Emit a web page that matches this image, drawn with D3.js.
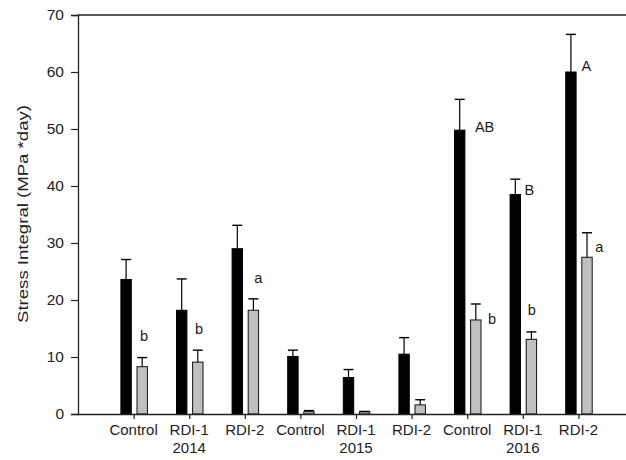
<!DOCTYPE html>
<html>
<head>
<meta charset="utf-8">
<script src="https://cdn.jsdelivr.net/npm/d3@7"></script>
<style>
  html, body { margin: 0; padding: 0; background: #fff; }
  svg { display: block; font-family: "Liberation Sans", Arial, sans-serif; }
</style>
</head>
<body>
<svg id="chart" width="626" height="460"></svg>
<script>
// Treatment names and year under the middle treatment of each season
const treatments = ["Control", "RDI-1", "RDI-2", "Control", "RDI-1", "RDI-2", "Control", "RDI-1", "RDI-2"];
const years = ["", "2014", "", "", "2015", "", "", "2016", ""];

// Black series: mean and error (upper SE)
const blackMean = [23.6, 18.2, 29.0, 10.1, 6.4, 10.5, 49.8, 38.5, 60.0];
const blackErr  = [3.5, 5.5, 4.1, 1.1, 1.4, 2.9, 5.4, 2.7, 6.6];
const blackLetters = ["", "", "", "", "", "", "AB", "B", "A"];

// Grey series: mean and error (upper SE)
const greyMean = [8.3, 9.1, 18.2, 0.4, 0.4, 1.6, 16.5, 13.1, 27.5];
const greyErr  = [1.6, 2.1, 2.0, 0.2, 0.05, 0.9, 2.8, 1.3, 4.3];
const greyLetters = ["b", "b", "a", "", "", "", "b", "b", "a"];

const yTicks = [0, 10, 20, 30, 40, 50, 60, 70];

const svg = d3.select("#chart");
const plotLeft = 78, plotRight = 634, plotTop = 15, plotBottom = 414;

const x = d3.scaleLinear().domain([0, 10]).range([plotLeft, plotRight]);
const y = d3.scaleLinear().domain([0, 70]).range([plotBottom, plotTop]);

const barW = 10.4;
const blackOff = -12.7, greyOff = 3.4;
const capW = 10;

const g = svg.append("g");

// Bars with upper error bars and significance letters
function drawSeries(means, errs, off, fill, stroke, letters, letterPos) {
  means.forEach((v, i) => {
    const bx = x(i + 1) + off;
    g.append("rect")
      .attr("x", bx)
      .attr("y", y(v))
      .attr("width", barW)
      .attr("height", y(0) - y(v))
      .attr("fill", fill)
      .attr("stroke", stroke)
      .attr("stroke-width", 1);
    const mid = bx + barW / 2;
    const errTop = y(v + errs[i]);
    g.append("line")
      .attr("x1", mid).attr("x2", mid)
      .attr("y1", y(v)).attr("y2", errTop)
      .attr("stroke", "#000").attr("stroke-width", 1.2);
    g.append("line")
      .attr("x1", mid - capW / 2).attr("x2", mid + capW / 2)
      .attr("y1", errTop).attr("y2", errTop)
      .attr("stroke", "#000").attr("stroke-width", 1.4);
    if (letters[i]) {
      const p = letterPos(i, v, errs[i], bx);
      g.append("text")
        .attr("x", p[0]).attr("y", p[1])
        .attr("font-size", 14.5)
        .attr("fill", "#1a1a1a")
        .text(letters[i]);
    }
  });
}

drawSeries(blackMean, blackErr, blackOff, "#000", "#000", blackLetters,
  (i, v, e, bx) => {
    if (i === 6) return [bx + barW + 10, y(v) + 2];
    if (i === 8) return [bx + barW + 5.5, y(v) - 1];
    return [bx + barW + 4, y(v)];
  });

drawSeries(greyMean, greyErr, greyOff, "#c0c0c0", "#111", greyLetters,
  (i, v, e, bx) => {
    if (i === 0) return [bx + 3, y(v + e) - 17];
    if (i === 1) return [bx + 2.5, y(v + e) - 16];
    if (i === 2) return [bx + 6, y(v + e) - 16];
    if (i === 6) return [bx + barW + 7, y(v) + 4];
    if (i === 7) return [bx + 1.5, y(v + e) - 17];
    return [bx + barW + 3, y(v) - 5];
  });

// Top frame line
svg.append("line")
  .attr("x1", plotLeft).attr("x2", plotRight)
  .attr("y1", plotTop).attr("y2", plotTop)
  .attr("stroke", "#222").attr("stroke-width", 1.5);

// Y axis
const yAxis = svg.append("g")
  .attr("transform", `translate(${plotLeft},0)`)
  .call(d3.axisLeft(y).tickValues(yTicks).tickSize(7).tickPadding(7));
yAxis.select(".domain").attr("stroke", "#222").attr("stroke-width", 1.3);
yAxis.selectAll(".tick line").attr("stroke", "#222").attr("stroke-width", 1.2);
yAxis.selectAll("text")
  .attr("font-size", 15.5)
  .attr("font-family", "Liberation Sans, Arial, sans-serif")
  .attr("fill", "#222");

// X axis
const xAxis = svg.append("g")
  .attr("transform", `translate(0,${plotBottom})`)
  .call(d3.axisBottom(x).tickValues(d3.range(1, 10)).tickSize(5).tickFormat(""));
xAxis.select(".domain").attr("stroke", "#222").attr("stroke-width", 1.3)
  .attr("d", `M${plotLeft},0.5H${plotRight}`);
xAxis.selectAll(".tick line").attr("stroke", "#222").attr("stroke-width", 1.2);

// Category labels
treatments.forEach((t, i) => {
  svg.append("text")
    .attr("x", x(i + 1)).attr("y", 434.5)
    .attr("text-anchor", "middle")
    .attr("font-size", 15).attr("fill", "#222")
    .text(t);
  if (years[i]) {
    svg.append("text")
      .attr("x", x(i + 1)).attr("y", 452.5)
      .attr("text-anchor", "middle")
      .attr("font-size", 15).attr("fill", "#222")
      .text(years[i]);
  }
});

// Y title
svg.append("text")
  .attr("transform", `translate(28,214) rotate(-90)`)
  .attr("text-anchor", "middle")
  .attr("font-size", 15.5).attr("fill", "#222")
  .attr("textLength", 218)
  .attr("lengthAdjust", "spacingAndGlyphs")
  .text("Stress Integral (MPa *day)");
</script>
</body>
</html>
